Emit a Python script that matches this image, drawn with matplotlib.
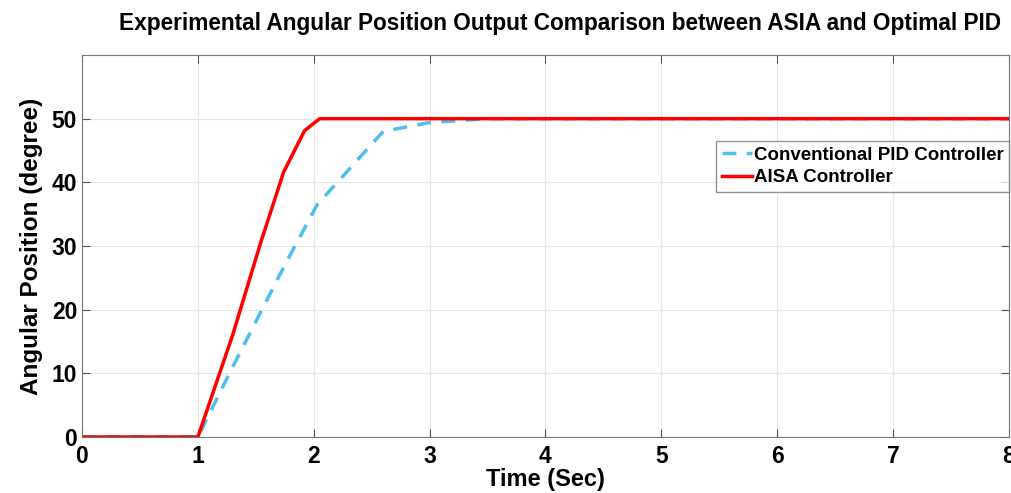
import numpy as np
import matplotlib.pyplot as plt

plt.rcParams['font.family'] = ['Liberation Sans', 'DejaVu Sans']
plt.rcParams['font.weight'] = 'bold'

# step responses (time in sec, angle in degree)
t_pid = [0, 1.0, 1.3, 1.75, 2.03, 2.6, 3.0, 3.5, 8]
y_pid = [0, 0, 11, 27, 36.5, 48, 49.4, 50, 50]

t_aisa = [0, 1.0, 1.3, 1.54, 1.74, 1.92, 2.05, 8]
y_aisa = [0, 0, 16, 30.4, 41.6, 48.1, 50, 50]

x_ticks = [0, 1, 2, 3, 4, 5, 6, 7, 8]
y_ticks = [0, 10, 20, 30, 40, 50]

fig = plt.figure(figsize=(10.11, 4.93), dpi=100)
ax = fig.add_axes([0.0811, 0.1136, 0.9169, 0.7748])

ax.plot(t_pid, y_pid, '--', color='#4DBEEE', lw=2.5, dashes=(4, 3),
        label='Conventional PID Controller')
ax.plot(t_aisa, y_aisa, '-', color='#FF0000', lw=2.5, label='AISA Controller')

ax.set_xlim(0, 8)
ax.set_ylim(0, 60)
ax.set_xticks(x_ticks)
ax.set_yticks(y_ticks)
ax.tick_params(direction='in', labelsize=16.5, length=6, color='#555555',
               top=True, right=True)
ax.tick_params(axis='x', pad=6)
ax.grid(True, color='#e6e6e6', lw=0.8)
for s in ax.spines.values():
    s.set_color('#777777')

ax.set_xlabel('Time (Sec)', fontsize=17, fontweight='bold', labelpad=0)
ax.set_ylabel('Angular Position (degree)', fontsize=17.5, fontweight='bold', labelpad=6)
ax.set_title('Experimental Angular Position Output Comparison between ASIA and Optimal PID',
             fontsize=16.3, fontweight='bold', pad=18, x=0.516)

leg = ax.legend(loc='upper right', bbox_to_anchor=(1.0, 0.775),
                fontsize=13.5, frameon=True, fancybox=False,
                borderpad=0.3, labelspacing=0.3, handlelength=1.6, handletextpad=0.1,
                borderaxespad=0)
leg.get_frame().set_edgecolor('#777777')
leg.get_frame().set_linewidth(1.0)

fig.savefig('out.png', dpi=100)
